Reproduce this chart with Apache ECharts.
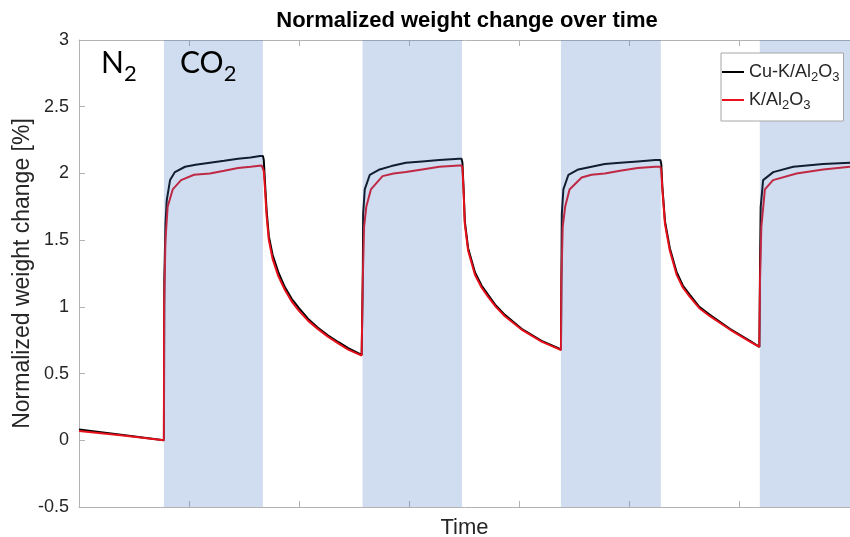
<!DOCTYPE html>
<html>
<head>
<meta charset="utf-8">
<script src="https://cdn.jsdelivr.net/npm/echarts@6/dist/echarts.min.js"></script>
<style>html,body{margin:0;padding:0;background:#fff}#c{width:850px;height:537px}</style>
</head>
<body>
<div id="c"></div>
<script>
// Time (arbitrary units) and normalized weight change [%]
const tCuK = [0, 20, 38.6, 38.8, 39.3, 39.9, 41.4, 43.6, 48.2, 53, 59.5, 66, 72.3, 78, 82.3, 83.6,
  84.0, 84.5, 85.3, 86.3, 88.0, 90.6, 93.5, 96.7, 100, 104.2, 108.5, 113.3, 118, 122.4, 128.5, 128.9,
  129.0, 129.2, 129.9, 132.2, 136.7, 142, 148.6, 156, 163.8, 172.8, 173.9,
  174.3, 174.8, 175.4, 176.9, 180.0, 183, 186.0, 189.5, 193.6, 201.2, 210.3, 217.9, 219.1,
  219.3, 219.5, 220.2, 222.5, 227, 233, 239, 246, 254, 262, 264.3,
  264.7, 265.2, 266.4, 268.6, 271.7, 274.5, 277.7, 282, 286.8, 295.9, 305, 309.3,
  309.6, 309.9, 311.0, 315.6, 324.7, 338.3, 350.5];
const vCuK = [0.08, 0.04, 0.0, 1.2, 1.62, 1.80, 1.95, 2.01, 2.05, 2.065, 2.08, 2.095, 2.11, 2.12, 2.13, 2.13,
  2.10, 1.95, 1.72, 1.53, 1.39, 1.26, 1.15, 1.06, 0.99, 0.91, 0.845, 0.785, 0.735, 0.69, 0.64, 0.64,
  1.2, 1.7, 1.88, 1.99, 2.03, 2.055, 2.08, 2.09, 2.10, 2.11, 2.11,
  2.08, 1.9, 1.64, 1.44, 1.26, 1.16, 1.09, 1.01, 0.94, 0.835, 0.745, 0.69, 0.68,
  1.2, 1.7, 1.88, 1.99, 2.03, 2.05, 2.07, 2.08, 2.09, 2.10, 2.10,
  2.07, 1.9, 1.64, 1.44, 1.26, 1.16, 1.09, 1.0, 0.94, 0.835, 0.745, 0.70,
  1.3, 1.75, 1.95, 2.01, 2.05, 2.07, 2.08];
const tK = [0, 20, 38.6, 38.7, 39.3, 40.3, 42.6, 46.4, 52.3, 59.5, 66, 72.3, 78, 83.0, 83.6,
  84.0, 84.5, 85.3, 86.3, 88.0, 90.6, 93.5, 96.7, 100, 104.2, 108.5, 113.3, 118, 122.4, 128.5, 128.9,
  129.0, 129.6, 130.6, 132.7, 138.0, 143, 148.6, 156, 163.8, 172.8, 173.9,
  174.3, 174.8, 175.4, 176.9, 180.0, 183, 186.0, 189.5, 193.6, 201.2, 210.3, 217.9, 219.1,
  219.3, 219.9, 221, 223, 228.5, 233, 239, 246, 254, 262, 264.3,
  264.7, 265.2, 266.4, 268.6, 271.7, 274.5, 277.7, 282, 286.8, 295.9, 305, 309.3,
  309.6, 310.2, 311.8, 315.5, 326.2, 338.3, 350.5];
const vK = [0.07, 0.035, 0.0, 1.0, 1.50, 1.75, 1.88, 1.95, 1.99, 2.00, 2.02, 2.04, 2.05, 2.06, 2.06,
  2.02, 1.90, 1.68, 1.50, 1.36, 1.23, 1.13, 1.04, 0.97, 0.895, 0.835, 0.775, 0.725, 0.68, 0.635, 0.635,
  1.2, 1.60, 1.75, 1.88, 1.98, 2.00, 2.01, 2.03, 2.05, 2.06, 2.06,
  2.04, 1.88, 1.62, 1.42, 1.24, 1.145, 1.075, 1.0, 0.93, 0.83, 0.74, 0.685, 0.675,
  1.2, 1.60, 1.75, 1.88, 1.97, 1.99, 2.00, 2.02, 2.04, 2.05, 2.05,
  2.02, 1.88, 1.62, 1.42, 1.24, 1.145, 1.075, 0.99, 0.93, 0.83, 0.74, 0.70,
  1.2, 1.6, 1.88, 1.95, 2.00, 2.03, 2.05];
// CO2 periods (shaded)
const co2Start = [38.6, 128.9, 219.1, 309.5];
const co2End = [83.6, 174.1, 264.5, 354.5];
const seriesNames = ['Cu-K/Al2O3', 'K/Al2O3'];
const yTicks = [-0.5, 0, 0.5, 1, 1.5, 2, 2.5, 3];

const axisGray = '#b3b3b3';
const labelColor = '#262626';
const font = '"Liberation Sans", Arial, sans-serif';

const chart = echarts.init(document.getElementById('c'));
const xTickVals = [50, 100, 150, 200, 250, 300];
const xAxisBase = {
  type: 'value', min: 0, max: 350.5, interval: 50,
  axisLine: { show: true, onZero: false, lineStyle: { color: axisGray, width: 1 } },
  axisTick: { show: true, inside: true, length: 6, customValues: xTickVals, lineStyle: { color: axisGray } },
  axisLabel: { show: false },
  splitLine: { show: false }
};
const legendRich = {
  n: { fontSize: 18, fontFamily: font, color: labelColor, lineHeight: 24, verticalAlign: 'middle' },
  s: { fontSize: 13, fontFamily: font, color: labelColor, lineHeight: 13, verticalAlign: 'bottom' }
};
const bigRich = {
  n: { fontSize: 30, fontFamily: 'Lato, sans-serif', fill: '#000', lineHeight: 36, verticalAlign: 'top' },
  s: { fontSize: 22, fontFamily: 'Lato, sans-serif', fill: '#000', lineHeight: 22, padding: [15, 0, 0, 0], verticalAlign: 'top' }
};
chart.setOption({
  animation: false,
  backgroundColor: '#fff',
  title: {
    text: 'Normalized weight change over time',
    left: 462, top: 5, textAlign: 'center',
    textStyle: { fontFamily: font, fontWeight: 'bold', fontSize: 22, color: '#000' }
  },
  grid: { left: 79, top: 40, right: 0, bottom: 30, containLabel: false, outerBoundsMode: 'none' },
  legend: {
    left: 721, top: 53, orient: 'vertical', z: 10,
    padding: [10, 4, 9, 1], itemGap: 7,
    itemWidth: 22, itemHeight: 2, icon: 'rect',
    backgroundColor: '#fff', borderColor: '#a6a6a6', borderWidth: 1,
    data: seriesNames,
    formatter: function (name) {
      if (name === 'Cu-K/Al2O3') return '{n|Cu-K/Al}{s|2}{n|O}{s|3}';
      return '{n|K/Al}{s|2}{n|O}{s|3}';
    },
    textStyle: { rich: legendRich }
  },
  xAxis: [
    Object.assign({}, xAxisBase, {
      position: 'bottom',
      name: 'Time', nameLocation: 'middle', nameGap: 10, nameMoveOverlap: false,
      nameTextStyle: { fontFamily: font, fontSize: 22, color: labelColor }
    }),
    Object.assign({}, xAxisBase, { position: 'top' })
  ],
  yAxis: {
    type: 'value', min: -0.5, max: 3, interval: 0.5,
    axisLine: { show: true, onZero: false, lineStyle: { color: axisGray, width: 1 } },
    axisTick: { show: true, inside: true, length: 6, lineStyle: { color: axisGray } },
    axisLabel: { fontFamily: font, fontSize: 18, color: labelColor, margin: 10,
      formatter: function (v) { return yTicks.indexOf(v) >= 0 ? String(v) : ''; } },
    splitLine: { show: false },
    name: 'Normalized weight change [%]', nameLocation: 'middle', nameGap: 45, nameMoveOverlap: false,
    nameTextStyle: { fontFamily: font, fontSize: 23, color: labelColor }
  },
  graphic: [
    { type: 'text', left: 101, top: 48, z: 100, style: { text: '{n|N}{s|2}', rich: bigRich } },
    { type: 'text', left: 180, top: 48, z: 100, style: { text: '{n|CO}{s|2}', rich: bigRich } }
  ],
  series: [
    {
      name: seriesNames[0], type: 'line', z: 2,
      data: tCuK.map((t, i) => [t, vCuK[i]]),
      showSymbol: false, symbol: 'none',
      lineStyle: { color: '#000', width: 2 }, itemStyle: { color: '#000' }
    },
    {
      name: seriesNames[1], type: 'line', z: 2,
      data: tK.map((t, i) => [t, vK[i]]),
      showSymbol: false, symbol: 'none',
      lineStyle: { color: '#e8101a', width: 2 }, itemStyle: { color: '#e8101a' }
    },
    {
      name: 'bands', type: 'custom', z: 3, silent: true,
      data: co2Start.map((s, i) => [s, co2End[i]]),
      renderItem: function (params, api) {
        const p0 = api.coord([api.value(0), 3]);
        const p1 = api.coord([api.value(1), -0.5]);
        const rect = echarts.graphic.clipRectByRect(
          { x: p0[0], y: p0[1], width: p1[0] - p0[0], height: p1[1] - p0[1] },
          { x: params.coordSys.x, y: params.coordSys.y, width: params.coordSys.width, height: params.coordSys.height });
        return rect && { type: 'rect', shape: rect, style: { fill: 'rgba(68,114,196,0.25)' } };
      }
    }
  ]
});
</script>
</body>
</html>
